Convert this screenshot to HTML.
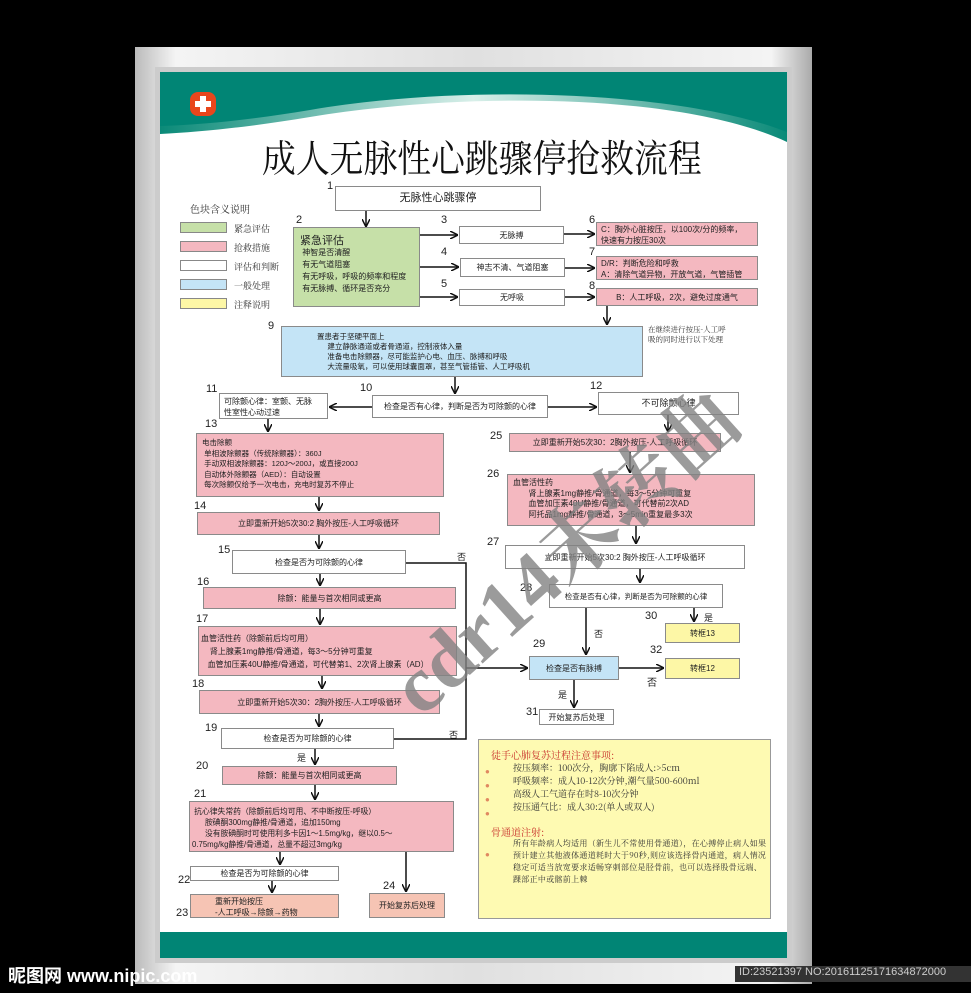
<!DOCTYPE html>
<html><head><meta charset="utf-8">
<style>
*{margin:0;padding:0;box-sizing:border-box}
body{width:971px;height:993px;background:#000;position:relative;overflow:hidden;font-family:"Liberation Sans","Noto Sans CJK SC",sans-serif;}
.a{position:absolute}
.b{position:absolute;border:1px solid #8a8a8a;font-size:8px;line-height:11px;color:#222;display:flex;align-items:center;justify-content:center;text-align:center}
.w{background:#fff}
.p{background:#f4b8c0}
.g{background:#c6e0a8}
.bl{background:#c4e4f6}
.y{background:#fdf7a6}
.o{background:#f6c4b4}
.l{justify-content:flex-start;text-align:left;align-items:flex-start;flex-direction:column;padding:2px 4px}
.n{position:absolute;font-size:11px;color:#222}
.sw{position:absolute;left:180px;width:47px;height:11px;border:1px solid #888}
.lg{position:absolute;left:234px;font-size:9px;color:#333;font-family:"Liberation Serif","Noto Serif CJK SC",serif}
</style></head><body>
<!-- frame -->
<div class="a" style="left:135px;top:47px;width:677px;height:937px;background:linear-gradient(90deg,#bbb,#f4f4f4 6%,#e0e0e0 50%,#f4f4f4 94%,#aaa);"></div>
<div class="a" style="left:155px;top:67px;width:637px;height:896px;background:#ccc"></div>
<div class="a" style="left:160px;top:72px;width:627px;height:886px;background:#fff"></div>
<svg class="a" style="left:160px;top:72px" width="627" height="90">
<defs><linearGradient id="gw" x1="0" x2="1"><stop offset="0" stop-color="#0a8a78"/><stop offset="0.5" stop-color="#d8efe9"/><stop offset="1" stop-color="#0a8a78"/></linearGradient></defs>
<path d="M0 0H627V70C520 20 300 20 150 45 90 55 40 60 0 62Z" fill="url(#gw)"/>
<path d="M0 0H627V60C520 18 300 12 150 38 90 48 40 53 0 54Z" fill="#018575"/>
</svg>
<div class="a" style="left:190px;top:92px;width:26px;height:24px;background:#e8461c;border-radius:8px"></div>
<div class="a" style="left:200px;top:96px;width:6px;height:16px;background:#fff"></div>
<div class="a" style="left:195px;top:101px;width:16px;height:6px;background:#fff"></div>
<div class="a" style="left:160px;top:932px;width:627px;height:26px;background:#018575"></div>
<div class="a" style="left:262px;top:134px;font-size:38px;line-height:44px;font-family:'Noto Serif CJK SC',serif;color:#111;white-space:nowrap;transform:scaleX(0.89);transform-origin:0 0">成人无脉性心跳骤停抢救流程</div>

<!-- legend -->
<div class="lg" style="left:190px;top:201px;font-size:10px">色块含义说明</div>
<div class="sw g" style="top:222px"></div><div class="lg" style="top:222px">紧急评估</div>
<div class="sw p" style="top:241px"></div><div class="lg" style="top:241px">抢救措施</div>
<div class="sw w" style="top:260px"></div><div class="lg" style="top:260px">评估和判断</div>
<div class="sw bl" style="top:279px"></div><div class="lg" style="top:279px">一般处理</div>
<div class="sw y" style="top:298px"></div><div class="lg" style="top:298px">注释说明</div>

<!-- boxes -->
<div class="b w" style="left:335px;top:186px;width:206px;height:25px;font-size:11px">无脉性心跳骤停</div>
<div class="b g l" style="left:293px;top:227px;width:127px;height:80px;padding:7px 6px;line-height:12px"><span style="font-size:11px">紧急评估</span><span>&nbsp;神智是否清醒</span><span>&nbsp;有无气道阻塞</span><span>&nbsp;有无呼吸，呼吸的频率和程度</span><span>&nbsp;有无脉搏、循环是否充分</span></div>
<div class="b w" style="left:459px;top:226px;width:105px;height:18px">无脉搏</div>
<div class="b w" style="left:460px;top:258px;width:105px;height:19px">神志不清、气道阻塞</div>
<div class="b w" style="left:459px;top:289px;width:106px;height:17px">无呼吸</div>
<div class="b p l" style="left:596px;top:222px;width:162px;height:24px;padding:1px 4px;line-height:11px"><span>C：胸外心脏按压，以100次/分的频率，</span><span>快速有力按压30次</span></div>
<div class="b p l" style="left:596px;top:256px;width:162px;height:24px;padding:1px 4px;line-height:11px"><span>D/R：判断危险和呼救</span><span>A：清除气道异物，开放气道，气管插管</span></div>
<div class="b p" style="left:596px;top:288px;width:162px;height:18px">B：人工呼吸，2次，避免过度通气</div>
<div class="b bl l" style="left:281px;top:326px;width:362px;height:51px;padding:5px 0 0 35px;line-height:10px;font-size:7.5px"><span>置患者于坚硬平面上</span><span>&nbsp;&nbsp;&nbsp;&nbsp;&nbsp;建立静脉通道或者骨通道，控制液体入量</span><span>&nbsp;&nbsp;&nbsp;&nbsp;&nbsp;准备电击除颤器，尽可能监护心电、血压、脉搏和呼吸</span><span>&nbsp;&nbsp;&nbsp;&nbsp;&nbsp;大流量吸氧，可以使用球囊面罩，甚至气管插管、人工呼吸机</span></div>
<div class="a" style="left:648px;top:325px;font-size:7.5px;line-height:10px;color:#333;font-family:'Noto Serif CJK SC',serif">在继续进行按压-人工呼<br>吸的同时进行以下处理</div>
<div class="b w" style="left:372px;top:395px;width:176px;height:23px">检查是否有心律，判断是否为可除颤的心律</div>
<div class="b w l" style="left:219px;top:393px;width:109px;height:26px;padding:2px 4px;line-height:11px"><span>可除颤心律：室颤、无脉</span><span>性室性心动过速</span></div>
<div class="b w" style="left:598px;top:392px;width:141px;height:23px;font-size:9px">不可除颤心律</div>
<div class="b p l" style="left:196px;top:433px;width:248px;height:64px;padding:4px 5px;line-height:10.5px;font-size:7.5px"><span>电击除颤</span><span>&nbsp;单相波除颤器（传统除颤器）：360J</span><span>&nbsp;手动双相波除颤器：120J～200J，或直接200J</span><span>&nbsp;自动体外除颤器（AED）：自动设置</span><span>&nbsp;每次除颤仅给予一次电击，充电时复苏不停止</span></div>
<div class="b p" style="left:197px;top:512px;width:243px;height:23px">立即重新开始5次30:2 胸外按压-人工呼吸循环</div>
<div class="b w" style="left:232px;top:550px;width:174px;height:24px">检查是否为可除颤的心律</div>
<div class="b p" style="left:203px;top:587px;width:253px;height:22px">除颤：能量与首次相同或更高</div>
<div class="b p l" style="left:198px;top:626px;width:259px;height:50px;padding:5px 2px;line-height:13px;font-size:8px"><span>血管活性药（除颤前后均可用）</span><span>&nbsp;&nbsp;&nbsp;&nbsp;肾上腺素1mg静推/骨通道，每3～5分钟可重复</span><span>&nbsp;&nbsp;&nbsp;血管加压素40U静推/骨通道，可代替第1、2次肾上腺素（AD）</span></div>
<div class="b p" style="left:199px;top:690px;width:241px;height:24px">立即重新开始5次30：2胸外按压-人工呼吸循环</div>
<div class="b w" style="left:221px;top:728px;width:173px;height:21px">检查是否为可除颤的心律</div>
<div class="b p" style="left:222px;top:766px;width:175px;height:19px">除颤：能量与首次相同或更高</div>
<div class="b p l" style="left:189px;top:801px;width:265px;height:51px;padding:4px 2px;line-height:11px;font-size:7.8px"><span>&nbsp;抗心律失常药（除颤前后均可用、不中断按压-呼吸）</span><span>&nbsp;&nbsp;&nbsp;&nbsp;&nbsp;&nbsp;胺碘酮300mg静推/骨通道，追加150mg</span><span>&nbsp;&nbsp;&nbsp;&nbsp;&nbsp;&nbsp;没有胺碘酮时可使用利多卡因1～1.5mg/kg，继以0.5～</span><span>0.75mg/kg静推/骨通道，总量不超过3mg/kg</span></div>
<div class="b w" style="left:190px;top:866px;width:149px;height:15px">检查是否为可除颤的心律</div>
<div class="b o l" style="left:190px;top:894px;width:149px;height:24px;padding:1px 0 0 24px;line-height:11px"><span>重新开始按压</span><span>-人工呼吸→除颤→药物</span></div>
<div class="b o" style="left:369px;top:893px;width:76px;height:25px">开始复苏后处理</div>
<div class="b p" style="left:509px;top:433px;width:212px;height:19px">立即重新开始5次30：2胸外按压-人工呼吸循环</div>
<div class="b p l" style="left:507px;top:474px;width:248px;height:52px;padding:3px 5px;line-height:10.5px"><span>血管活性药</span><span>&nbsp;&nbsp;&nbsp;&nbsp;&nbsp;&nbsp;&nbsp;肾上腺素1mg静推/骨通道，每3～5分钟可重复</span><span>&nbsp;&nbsp;&nbsp;&nbsp;&nbsp;&nbsp;&nbsp;血管加压素40U静推/骨通道，可代替前2次AD</span><span>&nbsp;&nbsp;&nbsp;&nbsp;&nbsp;&nbsp;&nbsp;阿托品1mg静推/骨通道，3～5min重复最多3次</span></div>
<div class="b w" style="left:505px;top:545px;width:240px;height:24px">立即重新开始5次30:2 胸外按压-人工呼吸循环</div>
<div class="b w" style="left:549px;top:584px;width:174px;height:24px;font-size:7.5px">检查是否有心律，判断是否为可除颤的心律</div>
<div class="b bl" style="left:529px;top:656px;width:90px;height:24px">检查是否有脉搏</div>
<div class="b y" style="left:665px;top:623px;width:75px;height:20px">转框13</div>
<div class="b y" style="left:665px;top:658px;width:75px;height:21px">转框12</div>
<div class="b w" style="left:539px;top:709px;width:75px;height:16px">开始复苏后处理</div>

<!-- yellow note -->
<div class="a" style="left:478px;top:739px;width:293px;height:180px;background:#fefab2;border:1px solid #999;font-family:'Noto Serif CJK SC',serif;font-size:9px;line-height:13px;color:#333;padding:8px 0 0 12px">
<div style="color:#c8312b;font-size:10px">徒手心肺复苏过程注意事项:</div>
<div style="padding-left:22px">按压频率：100次分，胸廓下陷成人:&gt;5cm<br>呼吸频率：成人10-12次分钟,潮气量500-600ml<br>高级人工气道存在时8-10次分钟<br>按压通气比：成人30:2(单人或双人)</div>
<div style="color:#c8312b;font-size:10px;margin-top:12px">骨通道注射:</div>
<div style="padding-left:22px;font-size:8px;line-height:12px;letter-spacing:0.3px">所有年龄病人均适用（新生儿不常使用骨通道），在心搏停止病人如果预计建立其他液体通道耗时大于90秒,则应该选择骨内通道，病人情况稳定可适当放宽要求适畅穿刺部位是胫骨前，也可以选择股骨远端、踝部正中或髂前上棘</div>
</div>
<div class="a" style="left:485px;top:765px;font-size:8px;line-height:14px;color:#e08860">●<br>●<br>●<br>●</div>
<div class="a" style="left:485px;top:850px;font-size:8px;color:#e08860">●</div>

<!-- numbers -->
<div class="n" style="left:327px;top:180px">1</div>
<div class="n" style="left:296px;top:214px">2</div>
<div class="n" style="left:441px;top:214px">3</div>
<div class="n" style="left:441px;top:246px">4</div>
<div class="n" style="left:441px;top:278px">5</div>
<div class="n" style="left:589px;top:214px">6</div>
<div class="n" style="left:589px;top:246px">7</div>
<div class="n" style="left:589px;top:280px">8</div>
<div class="n" style="left:268px;top:320px">9</div>
<div class="n" style="left:360px;top:382px">10</div>
<div class="n" style="left:206px;top:383px">11</div>
<div class="n" style="left:590px;top:380px">12</div>
<div class="n" style="left:205px;top:418px">13</div>
<div class="n" style="left:194px;top:500px">14</div>
<div class="n" style="left:218px;top:544px">15</div>
<div class="n" style="left:197px;top:576px">16</div>
<div class="n" style="left:196px;top:613px">17</div>
<div class="n" style="left:192px;top:678px">18</div>
<div class="n" style="left:205px;top:722px">19</div>
<div class="n" style="left:196px;top:760px">20</div>
<div class="n" style="left:194px;top:788px">21</div>
<div class="n" style="left:178px;top:874px">22</div>
<div class="n" style="left:176px;top:907px">23</div>
<div class="n" style="left:383px;top:880px">24</div>
<div class="n" style="left:490px;top:430px">25</div>
<div class="n" style="left:487px;top:468px">26</div>
<div class="n" style="left:487px;top:536px">27</div>
<div class="n" style="left:520px;top:582px">28</div>
<div class="n" style="left:533px;top:638px">29</div>
<div class="n" style="left:645px;top:610px">30</div>
<div class="n" style="left:526px;top:706px">31</div>
<div class="n" style="left:650px;top:644px">32</div>
<div class="n" style="left:457px;top:550px;font-size:9px">否</div>
<div class="n" style="left:449px;top:728px;font-size:9px">否</div>
<div class="n" style="left:297px;top:751px;font-size:9px">是</div>
<div class="n" style="left:594px;top:627px;font-size:9px">否</div>
<div class="n" style="left:704px;top:611px;font-size:9px">是</div>
<div class="n" style="left:647px;top:674px;font-size:10px">否</div>
<div class="n" style="left:558px;top:688px;font-size:9px">是</div>

<!-- connectors -->
<svg class="a" style="left:0;top:0" width="971" height="993">
<defs><marker id="m" markerWidth="8" markerHeight="8" refX="7" refY="4" orient="auto" markerUnits="userSpaceOnUse"><path d="M0 0L8 4L0 8" fill="none" stroke="#111" stroke-width="1.5"/></marker></defs>
<g stroke="#111" stroke-width="1.5" fill="none" marker-end="url(#m)">
<path d="M366 211V226"/>
<path d="M420 235H457"/><path d="M420 267H458"/><path d="M420 297H457"/>
<path d="M564 234H594"/><path d="M565 268H594"/><path d="M565 297H594"/>
<path d="M607 306V324"/>
<path d="M455 377V393"/>
<path d="M372 407H330"/><path d="M548 407H596"/>
<path d="M268 419V431"/>
<path d="M319 497V510"/><path d="M319 535V548"/><path d="M320 574V585"/><path d="M320 609V624"/><path d="M322 676V688"/><path d="M319 714V726"/>
<path d="M315 749V764"/><path d="M315 785V799"/><path d="M280 852V864"/><path d="M272 881V892"/><path d="M406 852V891"/>
<path d="M668 415V431"/><path d="M630 452V472"/><path d="M636 526V543"/><path d="M640 569V582"/>
<path d="M586 608V654"/><path d="M694 608V621"/><path d="M619 668H663"/><path d="M574 680V707"/>
<path d="M466 668H527"/>
</g>
<path d="M406 563H466V739H394" stroke="#111" stroke-width="1.5" fill="none"/>
</svg>

<!-- watermark -->
<div class="a" style="font-size:80px;font-weight:bold;color:rgba(130,130,130,0.8);font-family:'Liberation Serif','Noto Serif CJK SC',serif;transform:rotate(-42deg);white-space:nowrap;transform-origin:0 0;top:650px;left:360px">cdr14未转曲</div>

<!-- bottom watermark -->
<div class="a" style="left:8px;top:962px;font-size:18px;color:#fff;font-weight:bold">昵图网 www.nipic.com</div>
<div class="a" style="left:735px;top:966px;width:236px;height:16px;background:#333;color:#ccc;font-size:11px;padding-left:4px">ID:23521397 NO:20161125171634872000</div>
</body></html>
